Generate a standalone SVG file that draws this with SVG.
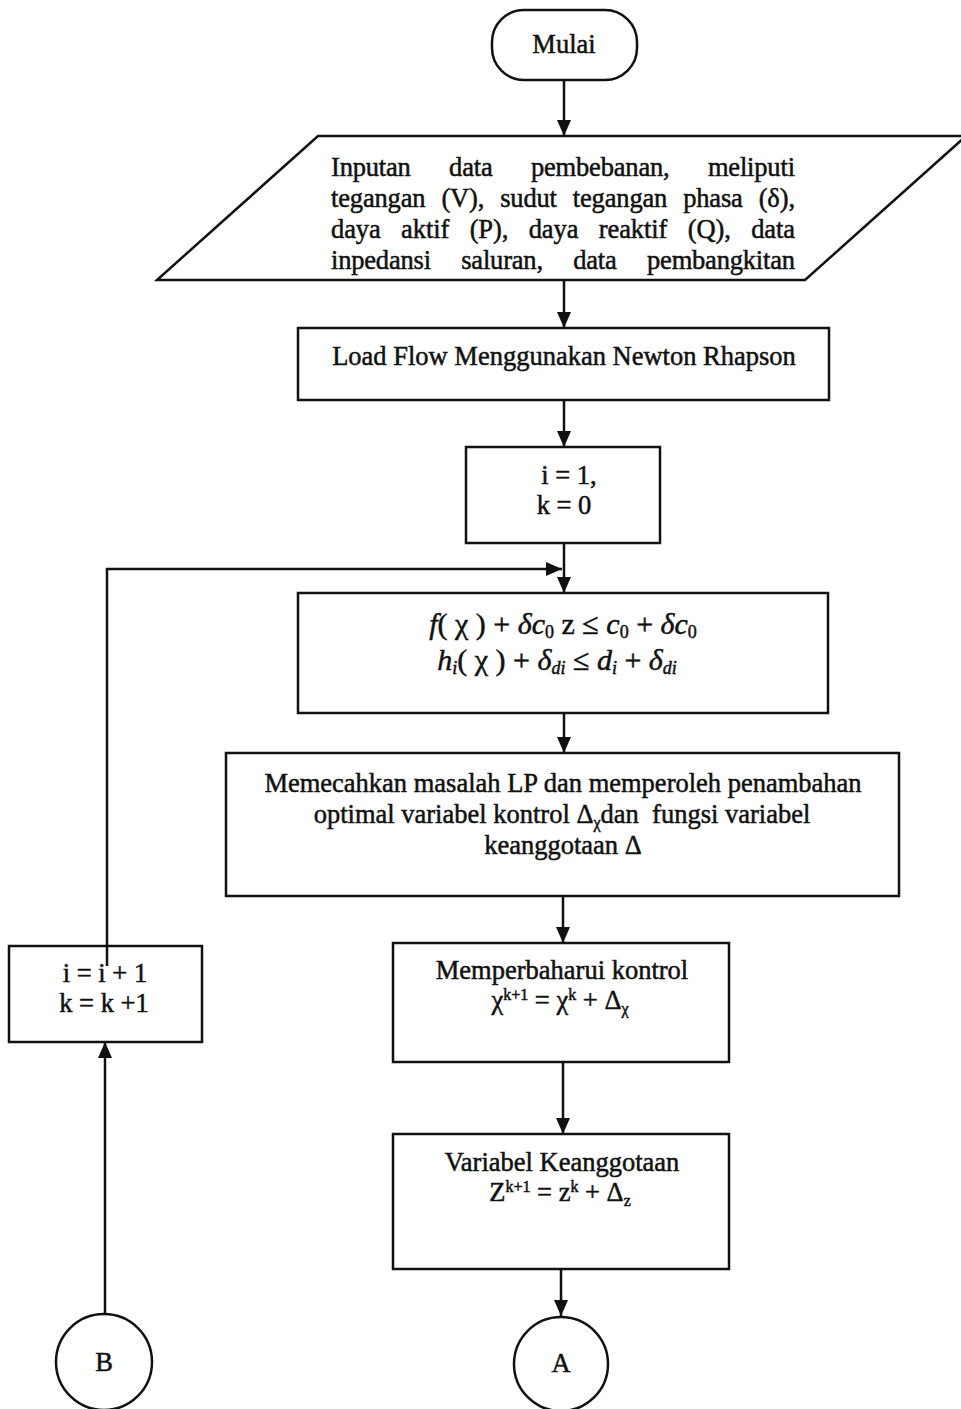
<svg xmlns="http://www.w3.org/2000/svg" width="961" height="1409" viewBox="0 0 961 1409">
  <defs>
    <marker id="arrow" markerUnits="userSpaceOnUse" markerWidth="17" markerHeight="14" refX="16" refY="7" orient="auto">
      <path d="M0,0 L16,7 L0,14 z" fill="#111"/>
    </marker>
    <style>
      .shape { fill: #fff; stroke: #111; stroke-width: 2.5; }
      .line { fill: none; stroke: #111; stroke-width: 2.5; }
      text { font-family: "Liberation Serif", "Times New Roman", serif; font-size: 26.5px; fill: #111; stroke: #111; stroke-width: 0.5; }
      .c { text-anchor: middle; }
      .it { font-style: italic; }
      .sm { font-size: 16px; }
      .eq { font-size: 30px; }
      .eq .sm { font-size: 18px; }
    </style>
  </defs>

  <rect width="961" height="1409" fill="#fff"/>

  <!-- connectors -->
  <g id="connectors">
    <line class="line" x1="564" y1="80" x2="564" y2="136" marker-end="url(#arrow)"/>
    <line class="line" x1="564" y1="280" x2="564" y2="328" marker-end="url(#arrow)"/>
    <line class="line" x1="564" y1="400" x2="564" y2="447" marker-end="url(#arrow)"/>
    <line class="line" x1="564" y1="543" x2="564" y2="593" marker-end="url(#arrow)"/>
    <line class="line" x1="564" y1="713" x2="564" y2="753" marker-end="url(#arrow)"/>
    <line class="line" x1="563" y1="896" x2="563" y2="943" marker-end="url(#arrow)"/>
    <line class="line" x1="563" y1="1062" x2="563" y2="1134" marker-end="url(#arrow)"/>
    <line class="line" x1="561" y1="1269" x2="561" y2="1316" marker-end="url(#arrow)"/>
    <line class="line" x1="105" y1="1314" x2="105" y2="1042" marker-end="url(#arrow)"/>
  </g>

  <!-- start terminal -->
  <g id="mulai">
    <rect class="shape" x="492" y="10" width="145" height="70" rx="32" ry="32"/>
    <text class="c" x="564" y="53">Mulai</text>
  </g>

  <!-- input data -->
  <g id="input">
    <polygon class="shape" points="318,136 966,136 805,280 157,280"/>
    <text x="331" y="176" textLength="464" lengthAdjust="spacing" word-spacing="32">Inputan data pembebanan, meliputi</text>
    <text x="331" y="207" textLength="464" lengthAdjust="spacing" word-spacing="9.5">tegangan (V), sudut tegangan phasa (δ),</text>
    <text x="331" y="238" textLength="464" lengthAdjust="spacing" word-spacing="14">daya aktif (P), daya reaktif (Q), data</text>
    <text x="331" y="269" textLength="464" lengthAdjust="spacing" word-spacing="24">inpedansi saluran, data pembangkitan</text>
  </g>

  <!-- load flow -->
  <g id="loadflow">
    <rect class="shape" x="298" y="328" width="531" height="72"/>
    <text class="c" x="564" y="365">Load Flow Menggunakan Newton Rhapson</text>
  </g>

  <!-- initial counters -->
  <g id="init">
    <rect class="shape" x="466" y="447" width="194" height="96"/>
    <text class="c" x="569" y="484">i  = 1,</text>
    <text class="c" x="564" y="514">k  = 0</text>
  </g>

  <!-- fuzzy constraints -->
  <g id="constraints">
    <rect class="shape" x="298" y="593" width="530" height="120"/>
    <text class="c eq" x="563" y="634"><tspan class="it">f</tspan>( χ ) + <tspan class="it">δc</tspan><tspan class="sm" dy="4">0</tspan><tspan dy="-4"> z ≤ </tspan><tspan class="it">c</tspan><tspan class="sm" dy="4">0</tspan><tspan dy="-4"> + </tspan><tspan class="it">δc</tspan><tspan class="sm" dy="4">0</tspan></text>
    <text class="c eq" x="557" y="670"><tspan class="it">h</tspan><tspan class="it sm" dy="4">i</tspan><tspan dy="-4">( χ ) + </tspan><tspan class="it">δ</tspan><tspan class="it sm" dy="4">di</tspan><tspan dy="-4"> ≤ </tspan><tspan class="it">d</tspan><tspan class="it sm" dy="4">i</tspan><tspan dy="-4"> + </tspan><tspan class="it">δ</tspan><tspan class="it sm" dy="4">di</tspan></text>
  </g>

  <!-- LP solution -->
  <g id="lp">
    <rect class="shape" x="226" y="753" width="673" height="143"/>
    <text class="c" x="563" y="792">Memecahkan masalah LP dan memperoleh penambahan</text>
    <text class="c" x="562" y="823">optimal variabel kontrol Δ<tspan class="sm" dy="5">χ</tspan><tspan dy="-5">dan &#160;fungsi variabel</tspan></text>
    <text class="c" x="563" y="854">keanggotaan Δ</text>
  </g>

  <!-- control update -->
  <g id="update-control">
    <rect class="shape" x="393" y="943" width="336" height="119"/>
    <text class="c" x="562" y="979">Memperbaharui kontrol</text>
    <text class="c" x="560" y="1009">χ<tspan class="sm" dy="-9">k+1</tspan><tspan dy="9"> = χ</tspan><tspan class="sm" dy="-9">k</tspan><tspan dy="9"> + Δ</tspan><tspan class="sm" dy="5">χ</tspan></text>
  </g>

  <!-- membership update -->
  <g id="update-membership">
    <rect class="shape" x="393" y="1134" width="336" height="135"/>
    <text class="c" x="562" y="1171">Variabel Keanggotaan</text>
    <text class="c" x="560" y="1201">Z<tspan class="sm" dy="-9">k+1</tspan><tspan dy="9"> = z</tspan><tspan class="sm" dy="-9">k</tspan><tspan dy="9"> + Δ</tspan><tspan class="sm" dy="5">z</tspan></text>
  </g>

  <!-- counter increment -->
  <g id="increment">
    <rect class="shape" x="9" y="946" width="193" height="96"/>
    <text class="c" x="105" y="982">i  = i + 1</text>
    <text class="c" x="104" y="1012">k = k +1</text>
  </g>

  <!-- loop back to constraints -->
  <g id="loop">
    <polyline class="line" points="107,966 107,569 562,569" marker-end="url(#arrow)"/>
  </g>

  <!-- off-page connectors -->
  <g id="connector-b">
    <circle class="shape" cx="104" cy="1362" r="48"/>
    <text class="c" x="104" y="1371">B</text>
  </g>
  <g id="connector-a">
    <circle class="shape" cx="561" cy="1364" r="47"/>
    <text class="c" x="561" y="1372">A</text>
  </g>
</svg>
